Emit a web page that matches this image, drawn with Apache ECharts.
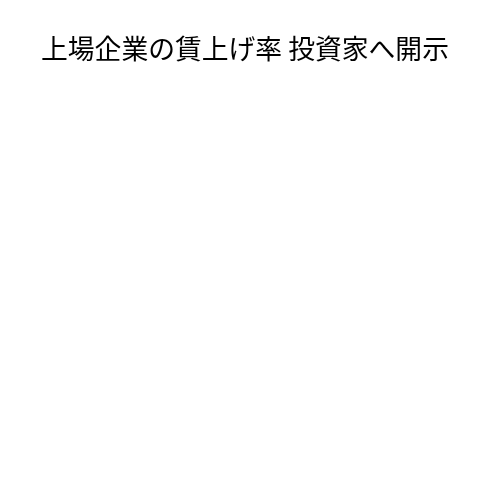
<!DOCTYPE html>
<html>
<head>
<meta charset="utf-8">
<script src="https://cdn.jsdelivr.net/npm/echarts@6/dist/echarts.min.js"></script>
<style>
html,body{margin:0;padding:0;background:#fff;}
#chart{width:500px;height:500px;}
</style>
</head>
<body>
<div id="chart"></div>
<script>
const titleText = '上場企業の賃上げ率 投資家へ開示';
const categories = [];
const values = [];

const chart = echarts.init(document.getElementById('chart'));
chart.setOption({
  backgroundColor: '#ffffff',
  animation: false,
  title: {
    text: titleText,
    left: 41,
    top: 35,
    padding: 0,
    textStyle: {
      fontFamily: 'Noto Sans CJK JP',
      fontSize: 26.8,
      fontWeight: 'normal',
      color: '#000000'
    }
  },
  series: []
});
</script>
</body>
</html>
